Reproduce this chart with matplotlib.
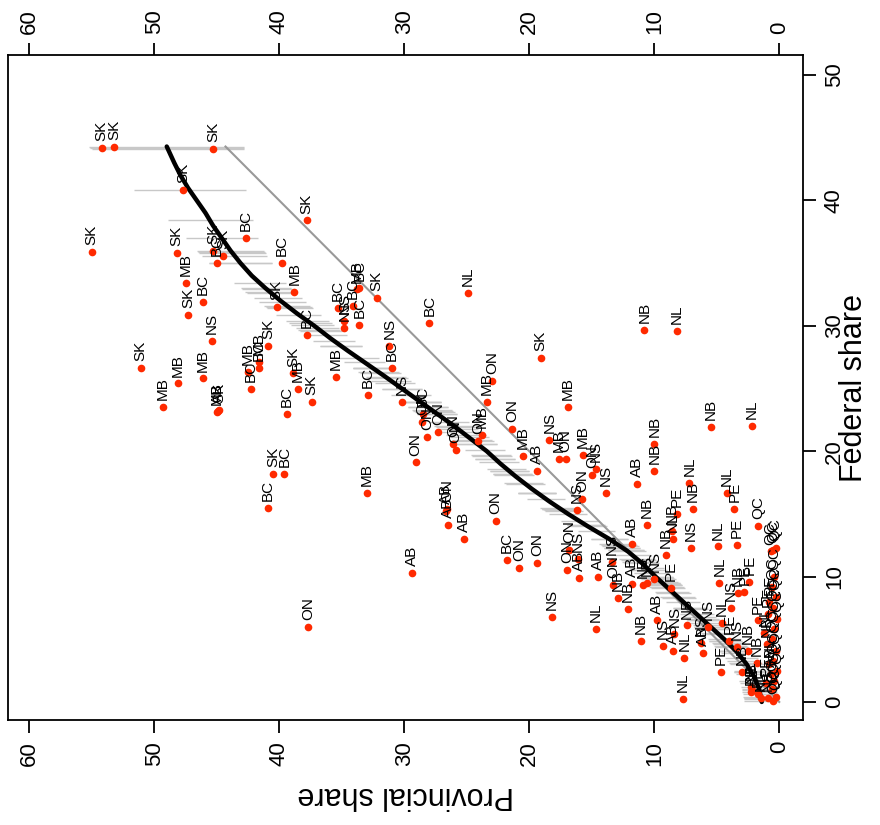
import numpy as np
import matplotlib
matplotlib.use("Agg")
import matplotlib.pyplot as plt

plt.rcParams['font.family'] = ['Liberation Sans', 'DejaVu Sans']

# provincial share, federal share, province code for each riding/party point
prov = [54.2, 53.2, 45.3, 47.7, 37.8, 55.0, 42.7, 48.2, 45.3, 44.5, 45.0, 39.8,
        47.5, 46.1, 47.3, 38.8, 40.2, 37.8, 51.1, 48.1, 49.3, 46.1, 45.4, 45.0,
        44.8, 44.9, 42.3, 42.5, 41.6, 41.6, 40.9, 38.9, 38.5, 37.4, 39.4, 35.5,
        40.5, 39.6, 40.9, 24.9, 28.0, 32.2, 35.3, 34.8, 34.1, 33.8, 33.6, 33.6,
        34.8, 31.2, 31.0, 32.9, 30.2, 19.1, 23.0, 23.4, 16.9, 21.4, 18.4, 17.6,
        17.1, 19.4, 20.5, 28.6, 28.5, 28.2, 27.3, 26.1, 25.9, 24.1, 23.8, 29.1,
        33.0, 26.7, 26.6, 26.5, 22.7, 16.2, 37.7, 29.4, 25.2, 21.8, 20.8, 19.4,
        17.0, 16.8, 16.1, 16.0, 14.5, 18.2, 14.7, 15.8, 13.9, 11.4, 10.6, 11.8,
        9.1, 13.4, 13.3, 12.9, 11.8, 12.1, 10.9, 10.6, 10.0, 11.1, 9.8, 9.3,
        10.8, 8.2, 5.5, 2.2, 10.0, 10.0, 15.0, 14.7, 15.7, 7.2, 4.2, 3.6,
        6.9, 8.2, 1.7, 8.6, 8.5, 7.1, 4.9, 3.4, 4.8, 8.7, 3.3, 2.8,
        2.4, 8.4, 7.6, 7.7, 8.5, 7.4, 5.7, 6.3, 6.1, 4.6, 3.9, 4.0,
        4.7, 3.0, 1.7, 1.8, 2.3, 2.5, 3.4, 2.3, 2.2, 1.7, 1.5,
        0.5, 0.3, 0.7, 0.4, 0.6, 0.3, 0.5, 0.2, 0.4, 0.6, 0.3, 0.5,
        0.2, 0.4, 0.6, 0.3, 0.5, 0.9, 1.0, 0.8, 1.1, 0.9, 0.7, 1.2, 0.8]
fed = [44.2, 44.3, 44.1, 40.8, 38.4, 35.9, 37.0, 35.8, 36.0, 35.6, 35.0, 35.0,
       33.4, 31.9, 30.9, 32.7, 31.5, 29.3, 26.6, 25.4, 23.5, 25.8, 28.8, 23.1,
       23.3, 23.2, 25.0, 26.3, 27.1, 26.6, 28.4, 26.2, 25.0, 23.9, 23.0, 25.9,
       18.2, 18.2, 15.5, 32.6, 30.2, 32.2, 31.4, 30.4, 31.6, 32.9, 33.0, 30.1,
       29.8, 28.4, 26.6, 24.5, 23.9, 27.4, 25.6, 23.9, 23.5, 21.8, 20.9, 19.4,
       19.4, 18.4, 19.6, 22.3, 23.0, 21.1, 21.5, 20.6, 20.1, 20.8, 21.3, 19.1,
       16.7, 15.2, 15.4, 14.1, 14.4, 15.3, 6.0, 10.3, 13.0, 11.3, 10.7, 11.1,
       10.5, 12.1, 11.4, 9.9, 10.0, 6.8, 5.8, 16.2, 16.7, 17.4, 14.1, 12.6,
       11.7, 11.2, 9.3, 8.3, 9.4, 7.4, 9.3, 9.5, 9.8, 4.9, 6.5, 4.5,
       29.7, 29.6, 21.9, 22.0, 20.6, 18.4, 18.1, 18.6, 19.7, 17.5, 16.7, 15.4,
       15.4, 15.0, 14.0, 13.6, 13.0, 12.3, 12.4, 12.5, 9.5, 9.1, 8.7, 8.8,
       9.6, 5.4, 3.5, 0.2, 4.1, 6.1, 6.0, 4.7, 3.9, 6.3, 7.5, 4.9,
       2.4, 2.4, 6.5, 3.1, 0.8, 4.1, 4.4, 1.2, 0.96, 0.6, 0.3,
       12.1, 12.3, 12.0, 10.0, 9.2, 8.4, 7.5, 6.6, 5.8, 5.0, 4.1, 3.3,
       2.5, 1.7, 1.0, 0.4, 0.1, 7.0, 4.6, 3.0, 1.5, 0.3, 2.2, 5.5, 8.0]
labels = ["SK", "SK", "SK", "SK", "SK", "SK", "BC", "SK", "SK", "SK", "BC", "BC",
          "MB", "BC", "SK", "MB", "SK", "BC", "SK", "MB", "MB", "MB", "NS", "MB",
          "SK", "AB", "BC", "MB", "MB", "BC", "SK", "SK", "MB", "SK", "BC", "MB",
          "SK", "BC", "BC", "NL", "BC", "SK", "BC", "NS", "BC", "MB", "BC", "BC",
          "NS", "NS", "BC", "BC", "NS", "SK", "ON", "MB", "MB", "ON", "NS", "MB",
          "ON", "AB", "MB", "ON", "BC", "ON", "ON", "ON", "ON", "ON", "MB", "ON",
          "MB", "AB", "ON", "AB", "ON", "NS", "ON", "AB", "AB", "BC", "ON", "ON",
          "ON", "ON", "NS", "AB", "AB", "NS", "NL", "ON", "NS", "AB", "NB", "AB",
          "NB", "NS", "ON", "NB", "AB", "NB", "NB", "NS", "NS", "NB", "AB", "NS",
          "NB", "NL", "NB", "NL", "NB", "NB", "ON", "NS", "MB", "NL", "NL", "PE",
          "NB", "PE", "QC", "NB", "NL", "NS", "NL", "PE", "NL", "PE", "NB", "PE",
          "PE", "NS", "NL", "NL", "AB", "NB", "NS", "NS", "AB", "NL", "NS", "PE",
          "PE", "NB", "PE", "NB", "PE", "NB", "NS", "NL", "NB", "PE", "NL",
          "QC", "QC", "QC", "QC", "QC", "QC", "QC", "QC", "QC", "QC", "QC", "QC",
          "QC", "QC", "QC", "QC", "QC", "PE", "NB", "NL", "PE", "NS", "AB", "NL", "PE"]

# smoothed fit of provincial on federal share, and half-width of its band
fit_fed = [0.0, 1.0, 2.0, 3.0, 4.0, 5.0, 6.0, 7.0, 8.0, 9.0, 10.0, 11.0, 12.0,
           13.0, 14.0, 15.0, 16.0, 17.0, 18.0, 19.0, 20.0, 22.0, 24.0, 26.0,
           28.0, 29.0, 30.0, 31.0, 32.0, 33.0, 34.0, 35.0, 36.0, 37.0, 38.0,
           39.0, 40.0, 41.0, 42.0, 43.0, 44.3]
fit_prov = [1.4, 1.6, 2.0, 2.6, 3.4, 4.4, 5.5, 6.6, 7.7, 8.8, 9.9, 10.9, 12.1,
            13.6, 15.3, 16.9, 18.4, 19.8, 21.1, 22.3, 23.4, 26.0, 28.8, 31.6,
            34.5, 35.9, 37.2, 38.6, 39.9, 41.1, 42.2, 43.1, 43.9, 44.6, 45.3,
            45.9, 46.6, 47.3, 47.9, 48.4, 49.0]
band_fed = [0, 5, 10, 15, 20, 25, 30, 33, 35, 36, 37, 38.4, 40.8, 44.3]
band_half = [1.4, 1.3, 1.4, 1.5, 1.6, 1.6, 1.7, 2.0, 2.5, 2.7, 2.9, 3.4, 4.5, 6.2]

prov = np.array(prov)
fed = np.array(fed)

fig = plt.figure(figsize=(8.8, 8.25), dpi=100)
ax = fig.add_axes([8 / 880, 105 / 825, 795 / 880, 665 / 825])

# band segments at each point's federal share
centre = np.interp(fed, fit_fed, fit_prov)
half = np.interp(fed, band_fed, band_half)
ax.hlines(fed, centre - half, centre + half, color='#c8c8c8', lw=1.0, zorder=1)

top = fed.max()
ax.plot([0, top], [0, top], color='#999999', lw=1.5, zorder=2)
ax.plot(fit_prov, fit_fed, color='black', lw=3.2, zorder=3,
        solid_capstyle='round', solid_joinstyle='round')

ax.plot(prov, fed, 'o', color='#ff2a00', ms=5.5, mec='none', zorder=4)
for p, f, lab in zip(prov, fed, labels):
    ax.annotate(lab, (p, f), xytext=(0, 5), textcoords='offset points',
                rotation=90, ha='center', va='bottom', fontsize=11, zorder=5)

ax.set_xlim(61.7, -1.9)
ax.set_ylim(-1.44, 51.6)

ax.set_xticks(range(0, 61, 10))
ax.set_yticks(range(0, 51, 10))
ax.tick_params(axis='x', top=True, labeltop=True, bottom=True, labelbottom=True,
               labelrotation=90, labelsize=16, length=9, width=1.3, pad=6)
ax.tick_params(axis='y', left=False, labelleft=False, right=True, labelright=True,
               labelrotation=90, labelsize=16, length=9, width=1.3, pad=6)
for lab in ax.get_yticklabels():
    lab.set_va('center')
for s in ax.spines.values():
    s.set_linewidth(1.3)

ax.set_xlabel('Provincial share', fontsize=22, rotation=180, labelpad=10)
ax.yaxis.set_label_position('right')
ax.set_ylabel('Federal share', fontsize=22, rotation=90, labelpad=-4)

fig.savefig('out.png', dpi=100)
